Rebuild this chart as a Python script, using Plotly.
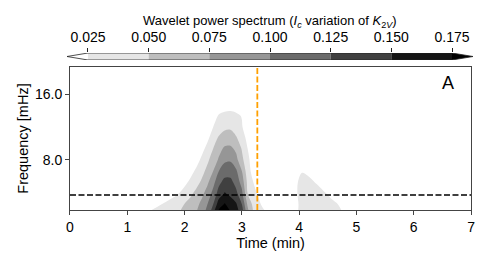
import plotly.graph_objects as go

# ---------------- data ----------------
levels = [0.025, 0.05, 0.075, 0.1, 0.125, 0.15, 0.175]
level_labels = ["0.025", "0.050", "0.075", "0.100", "0.125", "0.150", "0.175"]
band_colors = ["#ffffff", "#e6e6e6", "#bebebe", "#969696", "#6b6b6b", "#404040", "#151515", "#000000"]

# main wavelet-power blob: time (min) columns, frequency (mHz) rows
t_main = [1.0, 1.3, 1.6, 1.9, 2.1, 2.2, 2.3, 2.4, 2.5, 2.6, 2.7, 2.8, 2.9, 3.0, 3.1, 3.2, 3.3, 3.4, 3.5, 3.7]
f_main = [4.5, 5.0, 5.6, 6.3, 7.1, 8.0, 9.0, 10.1, 11.3, 12.7, 14.2]
power_main = [
    [0.012, 0.025, 0.0375, 0.05, 0.067, 0.075, 0.091, 0.11, 0.15, 0.186, 0.191, 0.179, 0.163, 0.14, 0.0875, 0.05, 0.04, 0.03, 0.02, 0.005],
    [0.0, 0.007, 0.025, 0.043, 0.058, 0.068, 0.081, 0.1, 0.125, 0.164, 0.177, 0.164, 0.153, 0.125, 0.071, 0.043, 0.029, 0.016, 0.01, 0.0],
    [0.0, 0.0, 0.003, 0.025, 0.045, 0.056, 0.069, 0.085, 0.108, 0.136, 0.152, 0.144, 0.131, 0.107, 0.05, 0.033, 0.02, 0.01, 0.003, 0.0],
    [0.0, 0.0, 0.0, 0.008, 0.030, 0.041, 0.054, 0.071, 0.092, 0.119, 0.133, 0.132, 0.117, 0.09, 0.044, 0.025, 0.012, 0.002, 0.0, 0.0],
    [0.0, 0.0, 0.0, 0.0, 0.016, 0.029, 0.042, 0.057, 0.075, 0.1, 0.113, 0.114, 0.104, 0.075, 0.036, 0.015, 0.005, 0.0, 0.0, 0.0],
    [0.0, 0.0, 0.0, 0.0, 0.0, 0.014, 0.030, 0.045, 0.0625, 0.078, 0.095, 0.097, 0.082, 0.057, 0.03, 0.015, 0.005, 0.0, 0.0, 0.0],
    [0.0, 0.0, 0.0, 0.0, 0.0, 0.0, 0.0165, 0.033, 0.05, 0.067, 0.079, 0.080, 0.070, 0.048, 0.025, 0.01, 0.0, 0.0, 0.0, 0.0],
    [0.0, 0.0, 0.0, 0.0, 0.0, 0.0, 0.0, 0.019, 0.038, 0.053, 0.06, 0.061, 0.052, 0.0375, 0.017, 0.005, 0.0, 0.0, 0.0, 0.0],
    [0.0, 0.0, 0.0, 0.0, 0.0, 0.0, 0.0, 0.005, 0.025, 0.036, 0.045, 0.046, 0.038, 0.027, 0.01, 0.0, 0.0, 0.0, 0.0, 0.0],
    [0.0, 0.0, 0.0, 0.0, 0.0, 0.0, 0.0, 0.0, 0.018, 0.027, 0.03, 0.031, 0.029, 0.024, 0.01, 0.0, 0.0, 0.0, 0.0, 0.0],
    [0.0, 0.0, 0.0, 0.0, 0.0, 0.0, 0.0, 0.0, 0.008, 0.015, 0.017, 0.018, 0.016, 0.012, 0.005, 0.0, 0.0, 0.0, 0.0, 0.0],
]

# secondary weak blob
t_second = [3.7, 3.85, 3.95, 4.05, 4.15, 4.3, 4.45, 4.6, 4.75, 4.9, 5.05]
f_second = [4.5, 5.0, 5.6, 6.3, 7.1, 8.0]
power_second = [
    [0.0, 0.01, 0.022, 0.033, 0.036, 0.035, 0.033, 0.03, 0.026, 0.018, 0.008],
    [0.0, 0.008, 0.02, 0.033, 0.036, 0.034, 0.031, 0.028, 0.022, 0.013, 0.004],
    [0.0, 0.01, 0.023, 0.033, 0.034, 0.031, 0.026, 0.019, 0.012, 0.005, 0.0],
    [0.0, 0.008, 0.023, 0.030, 0.029, 0.024, 0.016, 0.009, 0.004, 0.0, 0.0],
    [0.0, 0.005, 0.018, 0.024, 0.022, 0.017, 0.01, 0.005, 0.0, 0.0, 0.0],
    [0.0, 0.0, 0.005, 0.008, 0.008, 0.005, 0.002, 0.0, 0.0, 0.0, 0.0],
]

cutoff_freq = 5.5      # mHz, dashed black line
event_time = 3.27      # min, dashed orange line
x_ticks = [0, 1, 2, 3, 4, 5, 6, 7]
y_ticks = [8, 16]
y_ticklabels = ["8.0", "16.0"]

# ---------------- figure ----------------
FONT = "Liberation Sans, Arial, sans-serif"
nb = len(band_colors) - 1
colorscale = [[i / nb, c] for i, c in enumerate(band_colors)]
contours = dict(start=levels[0], end=levels[-1], size=levels[1] - levels[0], coloring="fill", showlines=False)

fig = go.Figure()
for tt, ff, zz in [(t_main, f_main, power_main), (t_second, f_second, power_second)]:
    fig.add_trace(go.Contour(
        x=tt, y=ff, z=zz, contours=contours, colorscale=colorscale, showscale=False,
        line=dict(width=0, smoothing=1.0), hoverinfo="skip",
    ))

# custom colorbar drawn as bars on a separate axis
fig.add_trace(go.Bar(
    x=[levels[i + 1] - levels[i] for i in range(len(levels) - 1)],
    base=levels[:-1], y=[0.5] * (len(levels) - 1), orientation="h", width=1,
    marker=dict(color=band_colors[1:-1], line=dict(width=0)),
    xaxis="x2", yaxis="y2", hoverinfo="skip", showlegend=False,
))

ext = 0.00865
lo, hi = levels[0], levels[-1]
shapes = [
    dict(type="path", xref="x2", yref="y2", path=f"M {lo-ext} 0.5 L {lo} 1 L {lo} 0 Z",
         fillcolor=band_colors[0], line=dict(width=0)),
    dict(type="path", xref="x2", yref="y2", path=f"M {hi+ext} 0.5 L {hi} 1 L {hi} 0 Z",
         fillcolor=band_colors[-1], line=dict(width=0)),
    dict(type="path", xref="x2", yref="y2",
         path=f"M {lo-ext} 0.5 L {lo} 1 L {hi} 1 L {hi+ext} 0.5 L {hi} 0 L {lo} 0 Z",
         line=dict(color="#222", width=0.8)),
    dict(type="line", xref="x domain", yref="y", x0=0, x1=1, y0=cutoff_freq, y1=cutoff_freq,
         line=dict(color="black", width=1.5, dash="6px,2.5px")),
    dict(type="line", xref="x", yref="y domain", x0=event_time, x1=event_time, y0=0, y1=1,
         line=dict(color="#FFA000", width=1.8, dash="6px,2.5px")),
]

# the page body adds an 8px offset; margins compensate for it
fig.update_layout(
    width=490, height=265,
    margin=dict(l=52, r=18, t=37, b=63, autoexpand=False),
    paper_bgcolor="white", plot_bgcolor="white",
    font=dict(family=FONT, size=14, color="black"),
    showlegend=False,
    shapes=shapes,
    xaxis=dict(domain=[0.0238, 0.9786], range=[0, 7], tickvals=x_ticks, ticks="outside", ticklen=4,
               tickcolor="#444", showline=True, linecolor="#444", linewidth=1, mirror=True,
               showgrid=False, zeroline=False, anchor="y", automargin=False,
               title=dict(text="Time (min)", font=dict(size=14.5), standoff=4)),
    yaxis=dict(domain=[0, 0.8667], type="log", range=[0.6721, 1.3284], tickvals=y_ticks,
               ticktext=y_ticklabels, ticks="outside", ticklen=4, tickcolor="#444",
               showline=True, linecolor="#444", linewidth=1, mirror=True,
               showgrid=False, zeroline=False, anchor="x", automargin=False,
               title=dict(text="Frequency [mHz]", font=dict(size=14.5), standoff=2)),
    xaxis2=dict(domain=[0.01667, 0.98333], anchor="y2", side="top", range=[lo - ext, hi + ext],
                tickvals=levels, ticktext=level_labels, ticks="outside", ticklen=4, tickcolor="#222",
                showline=False, showgrid=False, zeroline=False, tickfont=dict(size=14),
                automargin=False),
    yaxis2=dict(domain=[0.9091, 0.9515], anchor="x2", range=[0, 1], visible=False, automargin=False),
    annotations=[
        dict(text="Wavelet power spectrum (<i>I</i><sub><i>c</i></sub> variation of <i>K</i><sub>2<i>V</i></sub>)",
             xref="paper", yref="paper", x=0.5, y=1.145, xanchor="center", yanchor="middle",
             showarrow=False, font=dict(size=13)),
        dict(text="A", xref="paper", yref="paper", x=0.9238, y=0.7697, xanchor="center",
             yanchor="middle", showarrow=False, font=dict(size=18)),
    ],
)

fig.write_html("out.html")
